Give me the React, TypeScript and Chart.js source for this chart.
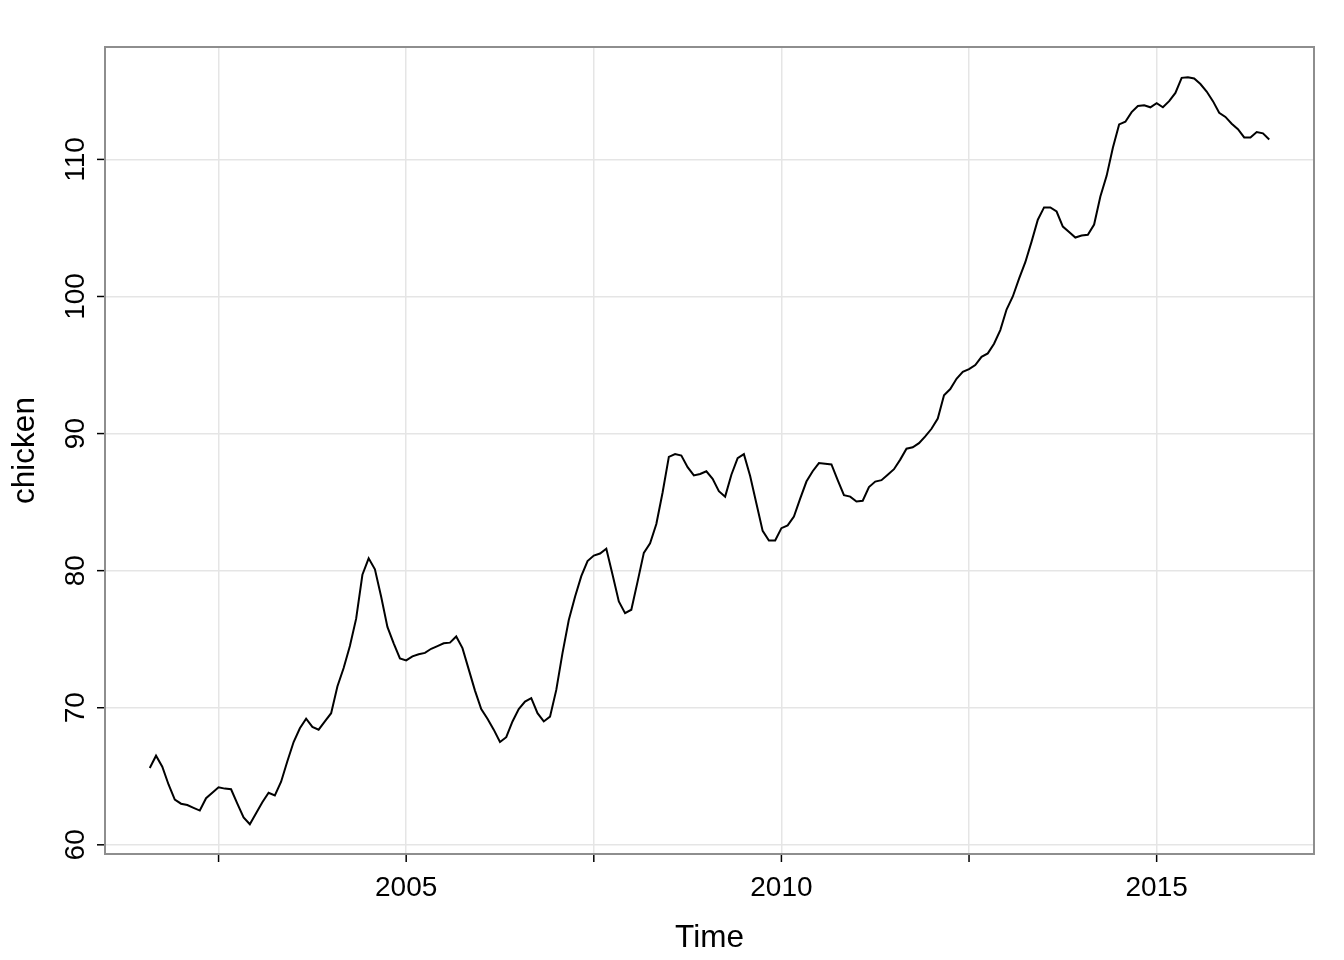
import React, { useEffect, useRef } from "react";
import { Chart, registerables } from "chart.js";

Chart.register(...registerables);

const START_YEAR = 2001;
const START_MONTH = 8;
const FREQ = 12;

const chicken = [
  65.6, 66.5, 65.7, 64.4, 63.3, 63.0, 62.9, 62.7, 62.5, 63.4, 63.8, 64.2,
  64.1, 64.05, 63.0, 62.0, 61.5, 62.3, 63.1, 63.8, 63.6, 64.6, 66.1, 67.5,
  68.5, 69.2, 68.6, 68.4, 69.0, 69.6, 71.55, 72.9, 74.5, 76.5, 79.7, 80.9,
  80.1, 78.1, 75.9, 74.7, 73.6, 73.45, 73.75, 73.9, 74.0, 74.3, 74.5, 74.7,
  74.75, 75.2, 74.35, 72.8, 71.25, 69.9, 69.2, 68.4, 67.5, 67.85, 69.0, 69.9,
  70.45, 70.7, 69.6, 69.0, 69.35, 71.3, 74.0, 76.4, 78.1, 79.6, 80.7, 81.1,
  81.25, 81.6, 79.7, 77.75, 76.9, 77.15, 79.2, 81.3, 82.0, 83.4, 85.7, 88.3,
  88.5, 88.4, 87.55, 86.95, 87.05, 87.25, 86.7, 85.8, 85.4, 87.0, 88.2, 88.5,
  86.9, 84.9, 82.9, 82.2, 82.2, 83.1, 83.3, 83.95, 85.25, 86.5, 87.25, 87.85,
  87.8, 87.75, 86.6, 85.5, 85.4, 85.05, 85.1, 86.1, 86.5, 86.6, 87.0, 87.4,
  88.1, 88.9, 89.0, 89.3, 89.8, 90.35, 91.1, 92.8, 93.25, 94.0, 94.5, 94.7,
  95.0, 95.6, 95.85, 96.55, 97.55, 99.05, 100.0, 101.3, 102.5, 104.0, 105.6, 106.5,
  106.5, 106.2, 105.1, 104.7, 104.3, 104.45, 104.5, 105.25, 107.3, 108.8, 110.85, 112.55,
  112.75, 113.45, 113.9, 113.95, 113.8, 114.1, 113.8, 114.25, 114.85, 115.95, 116.0, 115.9,
  115.5, 114.95, 114.25, 113.4, 113.1, 112.6, 112.2, 111.6, 111.6, 112.0, 111.9, 111.45,
];

const X_TICKS = [2002.5, 2005, 2007.5, 2010, 2012.5, 2015];
const X_LABELS = ["", "2005", "", "2010", "", "2015"];
const Y_TICKS = [60, 70, 80, 90, 100, 110];
const Y_LABELS = ["60", "70", "80", "90", "100", "110"];
const X_TITLE = "Time";
const Y_TITLE = "chicken";

const TICK_FONT = '28px "Liberation Sans", Arial, Helvetica, sans-serif';
const TITLE_FONT = '31.5px "Liberation Sans", Arial, Helvetica, sans-serif';

const decorPlugin = {
  id: "decor",
  afterDraw(chart: any) {
    const { ctx, chartArea, scales } = chart;
    const xs = scales.x;
    const ys = scales.y;
    ctx.save();
    // box
    ctx.strokeStyle = "#8e8e8e";
    ctx.lineWidth = 2;
    ctx.strokeRect(chartArea.left, chartArea.top, chartArea.right - chartArea.left, chartArea.bottom - chartArea.top);

    ctx.strokeStyle = "#000";
    ctx.fillStyle = "#000";
    ctx.lineWidth = 1.5;
    ctx.font = TICK_FONT;
    ctx.textAlign = "center";
    ctx.textBaseline = "middle";
    // x ticks
    X_TICKS.forEach((v, i) => {
      const px = xs.getPixelForValue(v);
      ctx.beginPath();
      ctx.moveTo(px, chartArea.bottom + 1);
      ctx.lineTo(px, chartArea.bottom + 8);
      ctx.stroke();
      if (X_LABELS[i]) ctx.fillText(X_LABELS[i], px, chartArea.bottom + 34);
    });
    // y ticks
    Y_TICKS.forEach((v, i) => {
      const py = ys.getPixelForValue(v);
      ctx.beginPath();
      ctx.moveTo(chartArea.left - 8, py);
      ctx.lineTo(chartArea.left - 1, py);
      ctx.stroke();
      ctx.save();
      ctx.translate(chartArea.left - 29, py);
      ctx.rotate(-Math.PI / 2);
      ctx.fillText(Y_LABELS[i], 0, 0);
      ctx.restore();
    });
    // titles
    ctx.font = TITLE_FONT;
    ctx.fillText(X_TITLE, (chartArea.left + chartArea.right) / 2, chartArea.bottom + 84);
    ctx.save();
    ctx.translate(chartArea.left - 80, (chartArea.top + chartArea.bottom) / 2);
    ctx.rotate(-Math.PI / 2);
    ctx.fillText(Y_TITLE, 0, 0);
    ctx.restore();
    ctx.restore();
  },
};

export default function App() {
  const ref = useRef<HTMLCanvasElement | null>(null);
  useEffect(() => {
    if (!ref.current) return;
    const points = chicken.map((v, i) => ({ x: START_YEAR + (START_MONTH - 1 + i) / FREQ, y: v }));
    const chart = new Chart(ref.current, {
      type: "line",
      data: {
        datasets: [
          {
            data: points,
            borderColor: "#000000",
            borderWidth: 2,
            pointRadius: 0,
            tension: 0,
            fill: false,
          },
        ],
      },
      options: {
        responsive: false,
        animation: false,
        events: [],
        layout: { padding: { top: 47, right: 30, left: 0, bottom: 0 } },
        plugins: { legend: { display: false }, tooltip: { enabled: false } },
        scales: {
          x: {
            type: "linear",
            min: 2000.9867,
            max: 2017.0967,
            afterBuildTicks: (s: any) => {
              s.ticks = X_TICKS.map((v) => ({ value: v }));
            },
            afterFit: (s: any) => {
              s.height = 106;
            },
            ticks: { display: false },
            grid: { color: "#e5e5e5", lineWidth: 1.5, drawTicks: false },
            border: { display: false },
          },
          y: {
            type: "linear",
            min: 59.33,
            max: 118.2,
            afterBuildTicks: (s: any) => {
              s.ticks = Y_TICKS.map((v) => ({ value: v }));
            },
            afterFit: (s: any) => {
              s.width = 105;
            },
            ticks: { display: false },
            grid: { color: "#e5e5e5", lineWidth: 1.5, drawTicks: false },
            border: { display: false },
          },
        },
      },
      plugins: [decorPlugin],
    } as any);
    return () => chart.destroy();
  }, []);
  return (
    <div style={{ position: "absolute", left: 0, top: 0, width: 1344, height: 960, background: "#fff" }}>
      <canvas ref={ref} width={1344} height={960} style={{ display: "block", width: 1344, height: 960 }} />
    </div>
  );
}
